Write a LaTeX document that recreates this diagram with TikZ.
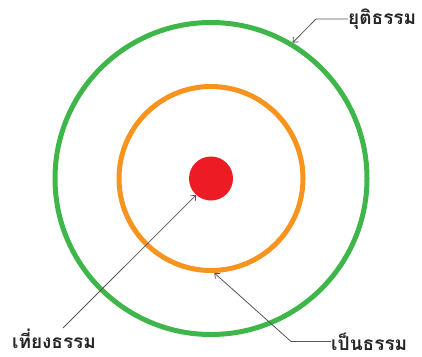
\documentclass[tikz,border=0pt]{standalone}
\usepackage{fontspec}
\newfontfamily\thaifont[Script=Thai]{Loma}
\usetikzlibrary{positioning, arrows.meta}
\definecolor{ringgreen}{RGB}{62,182,74}
\definecolor{ringorange}{RGB}{247,148,29}
\definecolor{dotred}{RGB}{237,28,36}
\definecolor{leadgray}{RGB}{85,85,85}
\tikzset{
  ring/.style={circle, draw=#1, line width=5pt, inner sep=0pt},
  label text/.style={font=\thaifont\bfseries\fontsize{19}{19}\selectfont,
                     text=black!85, inner sep=0pt},
  leader/.style={draw=leadgray, line width=0.8pt,
                 -{Straight Barb[length=4pt,width=7pt]}}
}

\begin{document}
\begin{tikzpicture}[x=1pt, y=-1pt]
  \useasboundingbox (0,0) rectangle (422,356);
  % rings
  \coordinate (C) at (211,178.5);
  \node[ring=ringgreen, minimum size=312pt] (outer) at (C) {};
  \node[ring=ringorange, minimum size=184pt] (middle) at (C) {};
  \node[circle, fill=dotred, minimum size=44pt, inner sep=0pt] (dot) at (C) {};
  % labels
  \node[label text, anchor=west] (yuti) at (348,19) {ยุติธรรม};
  \node[label text, anchor=west] (pen) at (331,341.5) {เป็นธรรม};
  \node[label text] (tiang) at (54,339) {เที่ยงธรรม};
  % leaders
  \draw[leader] (yuti.west) -- ++(-32,0) -- (outer.59);
  \draw[leader] (pen.west) -- ++(-40,0) -- (middle.-88);
  \draw[leader] ([xshift=9pt]tiang.north) ++(0,-1) -- (dot.-132);
\end{tikzpicture}
\end{document}
